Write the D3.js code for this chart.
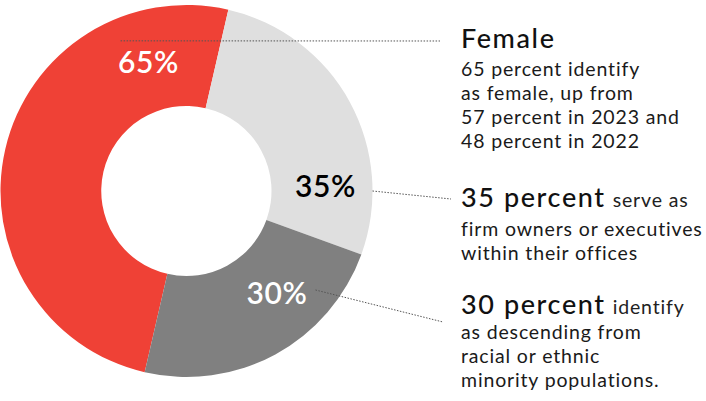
<!DOCTYPE html>
<html>
<head>
<meta charset="utf-8">
<script src="https://cdn.jsdelivr.net/npm/d3@7"></script>
<style>
  html, body { margin: 0; padding: 0; background: #fff; }
  svg { display: block; }
  text { font-family: Lato, "Open Sans", sans-serif; }
</style>
</head>
<body>
<svg id="chart" width="706" height="401"></svg>
<script>
// ---- data ----
const categories = ["Female", "Firm owners or executives", "Racial or ethnic minority"];
const values = [65, 35, 30];
const valueLabels = ["65%", "35%", "30%"];
const headings = ["Female", "35 percent", "30 percent"];
const headingTails = ["", "serve as", "identify"];
const bodyLines = [
  ["65 percent identify", "as female, up from", "57 percent in 2023 and", "48 percent in 2022"],
  ["firm owners or executives", "within their offices"],
  ["as descending from", "racial or ethnic", "minority populations."]
];

// ---- layout / style ----
const W = 706, H = 401;
const cx = 186.5, cy = 191, outerR = 186, innerR = 85;
const colors = ["#EF4136", "#DFDFDF", "#808080"];
const labelColors = ["#ffffff", "#000000", "#ffffff"];
const deg = Math.PI / 180;
const startA = -167 * deg;
// label placement (angle in degrees, radius)
const labelPolar = [[-16.5, 134], [88, 139], [138.6, 136.7]];
// leader lines: start polar (angle, radius) -> end point
const leaderStart = [[-23.7, 164], [90, 186], [127.5, 162.6]];
const leaderEnd = [[440, 41], [451, 199], [443, 322]];
// text blocks
const textX = 461;
const headBase = [47.5, 207.3, 314.3];
const firstGap = [28, 28.2, 24.2];
const lineH = 24;

const svg = d3.select("#chart");
const g = svg.append("g").attr("transform", `translate(${cx},${cy})`);

const pie = d3.pie().sort(null).value(d => d)
  .startAngle(startA).endAngle(startA + 2 * Math.PI);
const arcs = pie(values);
const arc = d3.arc().innerRadius(innerR).outerRadius(outerR);

g.selectAll("path.slice").data(arcs).enter().append("path")
  .attr("class", "slice")
  .attr("d", arc)
  .attr("fill", (d, i) => colors[i]);

const polar = (aDeg, r) => d3.arc().innerRadius(r).outerRadius(r)
  .startAngle(aDeg * deg).endAngle(aDeg * deg).centroid();

// leader lines
leaderStart.forEach((s, i) => {
  const p = polar(s[0], s[1]);
  svg.append("line")
    .attr("x1", cx + p[0]).attr("y1", cy + p[1])
    .attr("x2", leaderEnd[i][0]).attr("y2", leaderEnd[i][1])
    .attr("stroke", "#555")
    .attr("stroke-width", 1)
    .attr("stroke-dasharray", "1.5,1.5");
});

// value labels
g.selectAll("text.val").data(arcs).enter().append("text")
  .attr("class", "val")
  .each(function (d, i) {
    const p = polar(labelPolar[i][0], labelPolar[i][1]);
    d3.select(this).attr("x", p[0]).attr("y", p[1]);
  })
  .attr("dy", "0.36em")
  .attr("text-anchor", "middle")
  .attr("font-size", 30)
  .attr("font-weight", 600)
  .attr("letter-spacing", 0.6)
  .attr("fill", (d, i) => labelColors[i])
  .text((d, i) => valueLabels[i]);

// text blocks
headings.forEach((h, i) => {
  const t = svg.append("text").attr("x", textX).attr("y", headBase[i]).attr("fill", "#111");
  t.append("tspan").attr("font-size", 27).attr("font-weight", 500)
    .attr("letter-spacing", 1.6).text(h);
  if (headingTails[i]) {
    t.append("tspan").attr("dx", 7).attr("font-size", 19.5).attr("fill", "#222")
      .attr("letter-spacing", 0.85).text(headingTails[i]);
  }
  bodyLines[i].forEach((ln, j) => {
    svg.append("text")
      .attr("x", textX)
      .attr("y", headBase[i] + firstGap[i] + j * lineH)
      .attr("font-size", 19.5)
      .attr("letter-spacing", 0.85)
      .attr("fill", "#1a1a1a")
      .text(ln);
  });
});
</script>
</body>
</html>
